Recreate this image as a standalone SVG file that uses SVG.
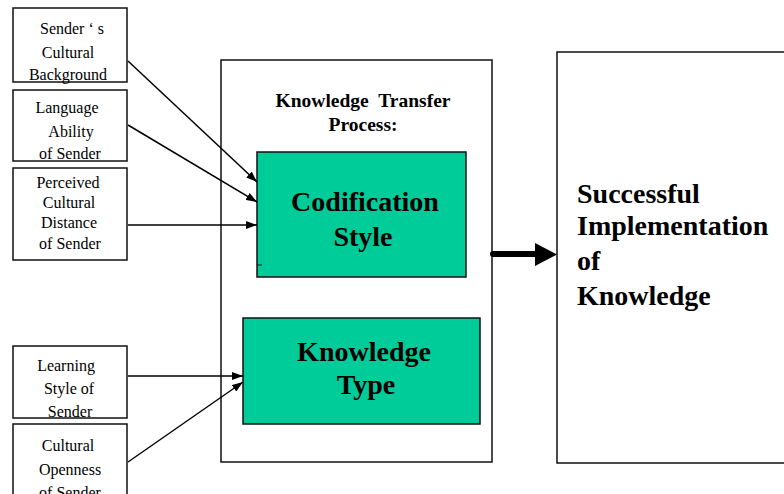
<svg xmlns="http://www.w3.org/2000/svg" width="784" height="494" viewBox="0 0 784 494">
<style>
.box{fill:#fff;stroke:#111;stroke-width:1.5}
.green{fill:#00CC99;stroke:#111;stroke-width:1.5}
.lbl{font-family:"Liberation Serif","Times New Roman",serif;font-size:16px;fill:#000;text-anchor:middle}
.big{font-family:"Liberation Serif","Times New Roman",serif;font-size:28px;font-weight:bold;fill:#000;text-anchor:middle}
.title{font-family:"Liberation Serif","Times New Roman",serif;font-size:19.5px;font-weight:bold;fill:#000;text-anchor:middle}
.right{font-family:"Liberation Serif","Times New Roman",serif;font-size:28px;font-weight:bold;fill:#000}
.conn{stroke:#000;stroke-width:1.5;fill:none;marker-end:url(#ah)}
</style>
<defs>
<marker id="ah" markerUnits="userSpaceOnUse" markerWidth="11" markerHeight="8" refX="11" refY="4" orient="auto">
<path d="M0,0 L11,4 L0,8 z" fill="#000"/>
</marker>
</defs>
<rect width="784" height="494" fill="#fff"/>
<g id="process">
<rect class="box" x="221" y="60" width="271" height="402"/>
<text class="title" x="363" y="107" word-spacing="5">Knowledge Transfer</text>
<text class="title" x="363" y="131">Process:</text>
</g>
<g id="codification">
<rect class="green" x="257" y="152" width="209" height="125"/>
<line x1="257" y1="265" x2="262" y2="265" stroke="#111" stroke-width="1"/>
<text class="big" x="365" y="211">Codification</text>
<text class="big" x="363" y="246">Style</text>
</g>
<g id="knowledgetype">
<rect class="green" x="243" y="318" width="237" height="106"/>
<text class="big" x="364" y="361">Knowledge</text>
<text class="big" x="366" y="394">Type</text>
</g>
<g id="success">
<rect class="box" x="557" y="52" width="240" height="411"/>
<text class="right" x="577" y="203">Successful</text>
<text class="right" x="577" y="235">Implementation</text>
<text class="right" x="577" y="270">of</text>
<text class="right" x="577" y="305">Knowledge</text>
</g>
<g id="sender-culture">
<rect class="box" x="13" y="8" width="114" height="74"/>
<text class="lbl" x="72" y="34">Sender ‘ s</text>
<text class="lbl" x="68" y="58">Cultural</text>
<text class="lbl" x="68" y="80">Background</text>
</g>
<g id="language">
<rect class="box" x="13" y="90" width="114" height="71"/>
<text class="lbl" x="67" y="113">Language</text>
<text class="lbl" x="71" y="137">Ability</text>
<text class="lbl" x="70" y="159">of Sender</text>
</g>
<g id="distance">
<rect class="box" x="13" y="168" width="114" height="92"/>
<text class="lbl" x="68" y="188" font-size="15">Perceived</text>
<text class="lbl" x="69" y="208" font-size="15">Cultural</text>
<text class="lbl" x="69" y="228" font-size="15">Distance</text>
<text class="lbl" x="70" y="249" font-size="15">of Sender</text>
</g>
<g id="learning">
<rect class="box" x="13" y="346" width="114" height="72"/>
<text class="lbl" x="66" y="371">Learning</text>
<text class="lbl" x="69" y="394">Style of</text>
<text class="lbl" x="70" y="417">Sender</text>
</g>
<g id="openness">
<rect class="box" x="13" y="424" width="114" height="80"/>
<text class="lbl" x="68" y="451">Cultural</text>
<text class="lbl" x="70" y="475">Openness</text>
<text class="lbl" x="70" y="498">of Sender</text>
</g>
<g id="connectors">
<line class="conn" x1="128" y1="61" x2="257" y2="182"/>
<line class="conn" x1="128" y1="125" x2="257" y2="202"/>
<line class="conn" x1="128" y1="225" x2="257" y2="225"/>
<line class="conn" x1="128" y1="376" x2="243" y2="376"/>
<line class="conn" x1="128" y1="462" x2="243" y2="382"/>
<line x1="493" y1="254" x2="537" y2="254" stroke="#000" stroke-width="6" stroke-linecap="round"/>
<path d="M535,243 L557,254.5 L535,266 z" fill="#000"/>
</g>
</svg>
